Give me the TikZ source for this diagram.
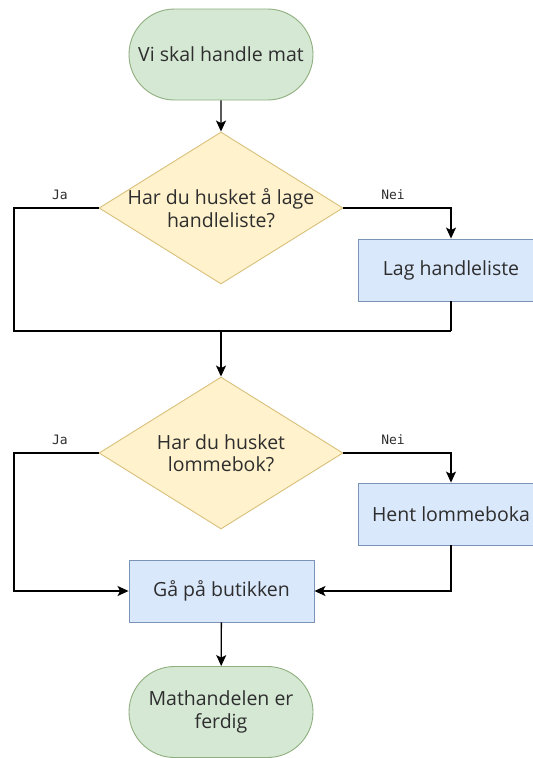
\documentclass[tikz,border=0pt]{standalone}
\usepackage{fontspec}
\setmainfont{Open Sans}
\newfontfamily\labelfont{DejaVu Sans Mono}
\usetikzlibrary{shapes.geometric,shapes.misc,arrows.meta}

\definecolor{termfill}{HTML}{D5E8D4}
\definecolor{termline}{HTML}{8FAF7E}
\definecolor{decfill}{HTML}{FFF2CC}
\definecolor{decline}{HTML}{D9C07A}
\definecolor{procfill}{HTML}{DAE8FC}
\definecolor{procline}{HTML}{7C93B8}
\definecolor{textc}{HTML}{2E2E2E}

\begin{document}
\begin{tikzpicture}[x=1pt,y=-1pt,
  every node/.style={text=textc},
  maintext/.style={font=\fontsize{19.5}{22.5}\selectfont, align=center},
  terminal/.style={rounded rectangle, draw=termline, fill=termfill, line width=0.9pt,
    minimum width=184pt, minimum height=91pt, inner sep=0pt, maintext},
  decision/.style={diamond, draw=decline, fill=decfill, line width=0.9pt,
    minimum width=244pt, minimum height=152pt, inner sep=0pt},
  process/.style={rectangle, draw=procline, fill=procfill, line width=0.9pt,
    minimum width=186pt, minimum height=62pt, inner sep=0pt, maintext},
  answer/.style={font=\labelfont\fontsize{13}{15}\selectfont},
  link/.style={draw=black, line width=1.3pt},
  flow/.style={link, -{Stealth[length=11pt,width=10pt,inset=2.5pt]}}
]
\useasboundingbox (0,0) rectangle (533,758);
\clip (0,0) rectangle (533,758);

% nodes
\node[terminal] (start) at (221,54.5) {Vi skal handle mat};
\node[decision] (q1) at (221,208) {};
\node[maintext] (q1text) at (q1) {Har du husket å lage\\handleliste?};
\node[process] (lag) at (451,270) {Lag handleliste};
\node[decision] (q2) at (221,453) {};
\node[maintext] (q2text) at (q2) {Har du husket\\lommebok?};
\node[process] (hent) at (451,514) {Hent lommeboka};
\node[process, minimum width=185pt] (gaa) at (221.5,591) {Gå på butikken};
\node[terminal] (end) at (221,712) {Mathandelen er\\ferdig};

% branch labels
\node[answer] (ja1) at (60,195) {Ja};
\node[answer] (nei1) at (393,195) {Nei};
\node[answer] (ja2) at (60,440) {Ja};
\node[answer] (nei2) at (393,440) {Nei};

% routing points
\coordinate (jl) at (14,331);
\coordinate (jr) at (451,331);
\coordinate (merge) at (221,331);
\coordinate (l2) at (14,591);

% connectors
\draw[flow] (start) -- (q1);
\draw[flow] (q1.east) -| (lag.north);
\draw[link] (q1.west) -| (jl) -- (jr);
\draw[link] (lag.south) -- (jr);
\draw[flow] (merge) -- (q2);
\draw[flow] (q2.east) -| (hent.north);
\draw[flow] (q2.west) -| (l2) -- (gaa.west);
\draw[flow] (hent.south) |- (gaa.east);
\draw[flow] (gaa) -- (end);
\end{tikzpicture}
\end{document}
